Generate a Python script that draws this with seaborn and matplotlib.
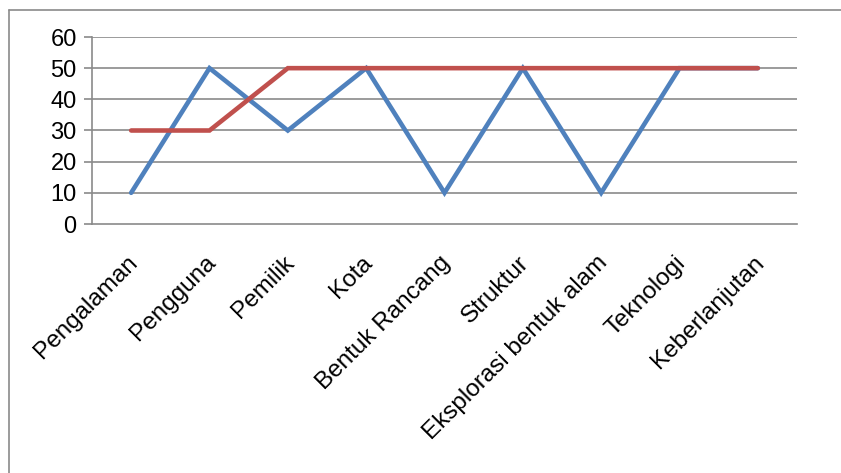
import matplotlib
matplotlib.use("Agg")
import matplotlib.pyplot as plt
import matplotlib.transforms as mtransforms
import seaborn as sns
import pandas as pd
from matplotlib.lines import Line2D

categories = ["Pengalaman", "Pengguna", "Pemilik", "Kota", "Bentuk Rancang",
              "Struktur", "Eksplorasi bentuk alam", "Teknologi", "Keberlanjutan"]
series_blue = [10, 50, 30, 50, 10, 50, 10, 50, 50]
series_red = [30, 30, 50, 50, 50, 50, 50, 50, 50]
y_ticks = [0, 10, 20, 30, 40, 50, 60]

sns.set_theme(style="white")
plt.rcParams['font.family'] = ['Liberation Sans', 'DejaVu Sans']

df = pd.DataFrame({
    "cat": categories * 2,
    "val": series_blue + series_red,
    "series": ["Blue"] * len(categories) + ["Red"] * len(categories),
})

fig = plt.figure(figsize=(8.41, 4.73), dpi=100)
fig.patch.set_facecolor("white")
ax = fig.add_axes([92/841, 1-224/473, (797-92)/841, (224-37)/473])
ax.set_facecolor("white")

for y in y_ticks[1:]:
    ax.axhline(y, color="#8a8a8a", lw=1.2, zorder=1)

sns.lineplot(data=df, x="cat", y="val", hue="series",
             palette={"Blue": "#4f81bd", "Red": "#c0504d"},
             linewidth=3.3, legend=False, ax=ax, zorder=3,
             solid_capstyle="round", solid_joinstyle="miter")

ax.set_xlim(-0.5, len(categories) - 0.5)
ax.set_ylim(0, 60)
ax.set_yticks(y_ticks)
ax.set_yticklabels([str(v) for v in y_ticks], fontsize=17, color="black")
ax.set_xticks(range(len(categories)))
ax.set_xticklabels(categories, rotation=45, ha="right", va="top",
                   rotation_mode="anchor", fontsize=17.5, color="black")
ax.set_xticks([i - 0.5 for i in range(len(categories) + 1)], minor=True)
ax.tick_params(axis="x", which="major", length=0, pad=20)
ax.tick_params(axis="x", which="minor", length=6, width=1.2, color="#8a8a8a", direction="out")
ax.tick_params(axis="y", length=6, width=1.2, color="#8a8a8a", direction="out", left=True, pad=5)
ax.set_xlabel("")
ax.set_ylabel("")

shift = mtransforms.ScaledTranslation(-5/100, 0, fig.dpi_scale_trans)
for lbl in ax.get_xticklabels():
    lbl.set_transform(lbl.get_transform() + shift)

for s in ["top", "right"]:
    ax.spines[s].set_visible(False)
for s in ["left", "bottom"]:
    ax.spines[s].set_color("#8a8a8a")
    ax.spines[s].set_linewidth(1.2)
ax.spines["bottom"].set_zorder(2)

# chart border
fig.add_artist(Line2D([9/841, 9/841], [0, 1-10/473], transform=fig.transFigure,
                      color="#8a8a8a", lw=1.2))
fig.add_artist(Line2D([9/841, 1], [1-10/473, 1-10/473], transform=fig.transFigure,
                      color="#8a8a8a", lw=1.2))

fig.savefig("out.png", dpi=100)
